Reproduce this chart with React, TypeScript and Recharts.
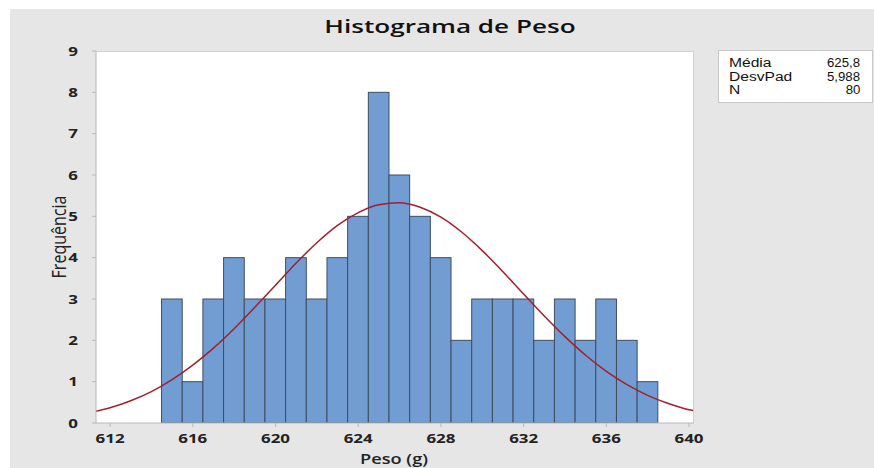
import { ComposedChart, Bar, Line, XAxis, YAxis } from "recharts";

// bin centres (width 1 g) and counts
const binCenters = [615, 616, 617, 618, 619, 620, 621, 622, 623, 624, 625, 626, 627, 628, 629, 630, 631, 632, 633, 634, 635, 636, 637, 638];
const frequencies = [3, 1, 3, 4, 3, 3, 4, 3, 4, 5, 8, 6, 5, 4, 2, 3, 3, 3, 2, 3, 2, 3, 2, 1];

// fitted normal curve, read at each gram
const curveX = [611.3, 612, 613, 614, 615, 616, 617, 618, 619, 620, 621, 622, 623, 624, 625, 626, 627, 628, 629, 630, 631, 632, 633, 634, 635, 636, 637, 638, 639, 640, 640.2];
const curveY = [0.28, 0.37, 0.54, 0.76, 1.05, 1.4, 1.81, 2.28, 2.8, 3.33, 3.87, 4.36, 4.78, 5.09, 5.28, 5.33, 5.22, 4.98, 4.62, 4.17, 3.66, 3.12, 2.59, 2.09, 1.64, 1.25, 0.93, 0.67, 0.47, 0.32, 0.3];

const xTicks = [612, 616, 620, 624, 628, 632, 636, 640];
const yTicks = [0, 1, 2, 3, 4, 5, 6, 7, 8, 9];

const statLabels = ["Média", "DesvPad", "N"];
const statValues = ["625,8", "5,988", "80"];

const W = 874;
const H = 468;
const PLOT_L = 96;
const PLOT_R = 694;
const PLOT_T = 51;
const PLOT_B = 423;
const X_MIN = 611.32;
const X_MAX = 640.24;
const unitPx = (PLOT_R - PLOT_L) / (X_MAX - X_MIN);

const FONT = "'Open Sans', 'Noto Sans', sans-serif";
const BOX_FONT = "'Liberation Sans', Arial, sans-serif";
const BAR_FILL = "#729dd3";
const BAR_EDGE = "#3e4d60";
const CURVE = "#a1202c";
const BG = "#e6e6e6";

const table = curveX.map((x, i) => {
  const k = binCenters.indexOf(x);
  return { x, curve: curveY[i], freq: k >= 0 ? frequencies[k] : undefined };
});

const XTick = (p: any) => (
  <text
    transform={`translate(${p.x},${p.y + 14}) scale(1.3,1)`}
    textAnchor="middle"
    fontFamily={FONT}
    fontWeight={700}
    fontSize={13}
    fill="#222"
  >
    {p.payload.value}
  </text>
);

const YTick = (p: any) => (
  <text
    transform={`translate(${p.x - 12},${p.y + 4.5}) scale(1.3,1)`}
    textAnchor="end"
    fontFamily={FONT}
    fontWeight={700}
    fontSize={13}
    fill="#222"
  >
    {p.payload.value}
  </text>
);

const HistBar = (p: any) => {
  if (!p.height) return null;
  const cx = p.x + p.width / 2;
  return (
    <rect
      x={cx - unitPx / 2}
      y={p.y}
      width={unitPx}
      height={p.height}
      fill={BAR_FILL}
      stroke={BAR_EDGE}
      strokeWidth={1}
    />
  );
};

export default function App() {
  return (
    <div style={{ position: "absolute", left: 0, top: 0, width: W, height: H, background: "#fff", overflow: "hidden" }}>
      <div style={{ position: "absolute", left: 10, top: 9, right: 0, bottom: 0, background: BG }} />
      <div
        style={{
          position: "absolute",
          left: PLOT_L,
          top: PLOT_T,
          width: PLOT_R - PLOT_L,
          height: PLOT_B - PLOT_T,
          background: "#fff",
          boxSizing: "border-box",
          borderTop: "1px solid #d0d0d0",
          borderRight: "1px solid #d0d0d0",
        }}
      />
      <div
        style={{
          position: "absolute",
          left: 450,
          top: 14,
          transform: "translateX(-50%) scaleX(1.45)",
          fontFamily: FONT,
          fontWeight: 600,
          fontSize: 18,
          color: "#111",
          whiteSpace: "nowrap",
        }}
      >
        Histograma de Peso
      </div>
      <div
        style={{
          position: "absolute",
          left: 394,
          top: 449,
          transform: "translateX(-50%) scaleX(1.3)",
          fontFamily: FONT,
          fontWeight: 600,
          fontSize: 14,
          color: "#222",
          whiteSpace: "nowrap",
        }}
      >
        Peso (g)
      </div>
      <div
        style={{
          position: "absolute",
          left: 58,
          top: 237,
          transform: "translate(-50%,-50%) rotate(-90deg) scaleY(1.3)",
          fontFamily: FONT,
          fontSize: 16,
          color: "#222",
          whiteSpace: "nowrap",
        }}
      >
        Frequência
      </div>
      <div
        style={{
          position: "absolute",
          left: 718,
          top: 50,
          width: 155,
          height: 53,
          background: "#fff",
          border: "1px solid #c8c8c8",
          boxSizing: "border-box",
        }}
      >
        {statLabels.map((lab, i) => (
          <div key={lab} style={{ position: "absolute", left: 10, right: 12, top: 6 + i * 13.7, height: 13, fontFamily: BOX_FONT, fontSize: 12, lineHeight: "13px", color: "#111" }}>
            <span style={{ position: "absolute", display: "block", height: 13, left: 0, transform: "scaleX(1.3)", transformOrigin: "left" }}>{lab}</span>
            <span style={{ position: "absolute", display: "block", height: 13, right: 0, transform: "scaleX(1.1)", transformOrigin: "right" }}>{statValues[i]}</span>
          </div>
        ))}
      </div>
      <div style={{ position: "absolute", left: 0, top: 0 }}>
        <ComposedChart width={W} height={H} data={table} margin={{ top: PLOT_T, right: W - PLOT_R, bottom: 0, left: 0 }}>
          <XAxis
            dataKey="x"
            type="number"
            domain={[X_MIN, X_MAX]}
            ticks={xTicks}
            allowDataOverflow
            height={H - PLOT_B}
            stroke="#b8b8b8"
            tickSize={4}
            tick={<XTick />}
          />
          <YAxis
            type="number"
            domain={[0, 9]}
            ticks={yTicks}
            allowDataOverflow
            width={PLOT_L}
            stroke="#b8b8b8"
            tickSize={4}
            tick={<YTick />}
          />
          <Bar dataKey="freq" barSize={20} shape={<HistBar />} isAnimationActive={false} />
          <Line dataKey="curve" type="monotone" stroke={CURVE} strokeWidth={1.5} dot={false} activeDot={false} isAnimationActive={false} />
        </ComposedChart>
      </div>
    </div>
  );
}
